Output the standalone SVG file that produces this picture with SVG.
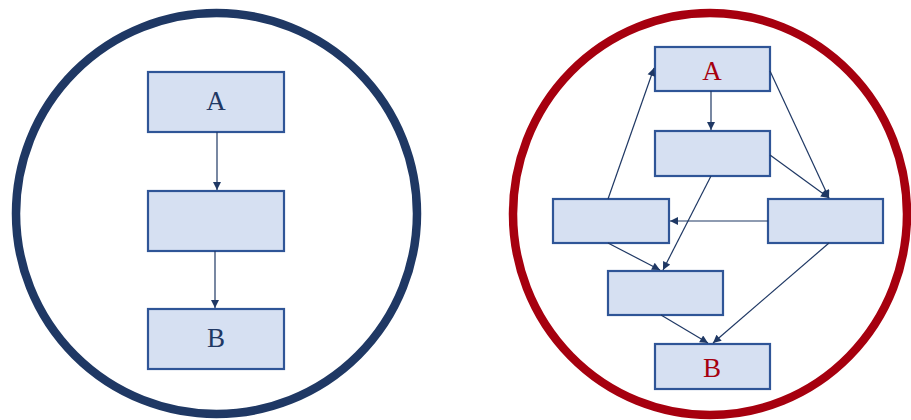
<svg xmlns="http://www.w3.org/2000/svg" width="911" height="420" viewBox="0 0 911 420">
  <defs>
    <marker id="arrow" viewBox="0 0 10 10" refX="10" refY="5" markerWidth="9" markerHeight="8" markerUnits="userSpaceOnUse" orient="auto">
      <path d="M0,0 L10,5 L0,10 z" fill="#1F3864"/>
    </marker>
    <style>
      .box { fill: #D6E0F2; stroke: #2F5597; stroke-width: 2.2; }
      .edge { stroke: #1F3864; stroke-width: 1.2; fill: none; marker-end: url(#arrow); }
      .lbl { font-family: "Liberation Serif", "Times New Roman", serif; font-size: 27px; text-anchor: middle; dominant-baseline: central; }
      .blue { fill: #1F3864; }
      .red { fill: #A6000F; }
    </style>
  </defs>
  <rect width="911" height="420" fill="#FFFFFF"/>

  <!-- left: linear chain -->
  <ellipse cx="216.5" cy="213.5" rx="200.5" ry="200.5" fill="none" stroke="#1F3864" stroke-width="8.5"/>
  <g id="L-A"><rect class="box" x="148" y="72" width="136" height="60"/><text class="lbl blue" x="216" y="101">A</text></g>
  <g id="L-M"><rect class="box" x="148" y="191" width="136" height="60"/></g>
  <g id="L-B"><rect class="box" x="148" y="309" width="136" height="60"/><text class="lbl blue" x="216" y="338">B</text></g>

  <!-- right: tangled graph -->
  <ellipse cx="710" cy="214" rx="197" ry="201" fill="none" stroke="#A6000F" stroke-width="8.5"/>
  <g id="R-A"><rect class="box" x="655" y="47" width="115" height="44"/><text class="lbl red" x="712" y="71">A</text></g>
  <g id="R-2"><rect class="box" x="655" y="131" width="115" height="45"/></g>
  <g id="R-L"><rect class="box" x="553" y="199" width="116" height="44"/></g>
  <g id="R-R"><rect class="box" x="768" y="199" width="115" height="44"/></g>
  <g id="R-4"><rect class="box" x="608" y="271" width="115" height="44"/></g>
  <g id="R-B"><rect class="box" x="655" y="344" width="115" height="45"/><text class="lbl red" x="712" y="368">B</text></g>

  <g id="connectors">
    <line class="edge" x1="217" y1="132" x2="217" y2="190"/>
    <line class="edge" x1="215" y1="251" x2="215" y2="308"/>

    <line class="edge" x1="711" y1="91" x2="711" y2="130"/>
    <line class="edge" x1="770" y1="155" x2="829" y2="198"/>
    <line class="edge" x1="770" y1="71" x2="829" y2="198"/>
    <line class="edge" x1="608" y1="199" x2="654" y2="68"/>
    <line class="edge" x1="768" y1="221" x2="670" y2="221"/>
    <line class="edge" x1="711" y1="176" x2="663" y2="270"/>
    <line class="edge" x1="608" y1="243" x2="660" y2="270"/>
    <line class="edge" x1="661" y1="315" x2="708" y2="343"/>
    <line class="edge" x1="829" y1="243" x2="713" y2="343"/>
  </g>
</svg>
